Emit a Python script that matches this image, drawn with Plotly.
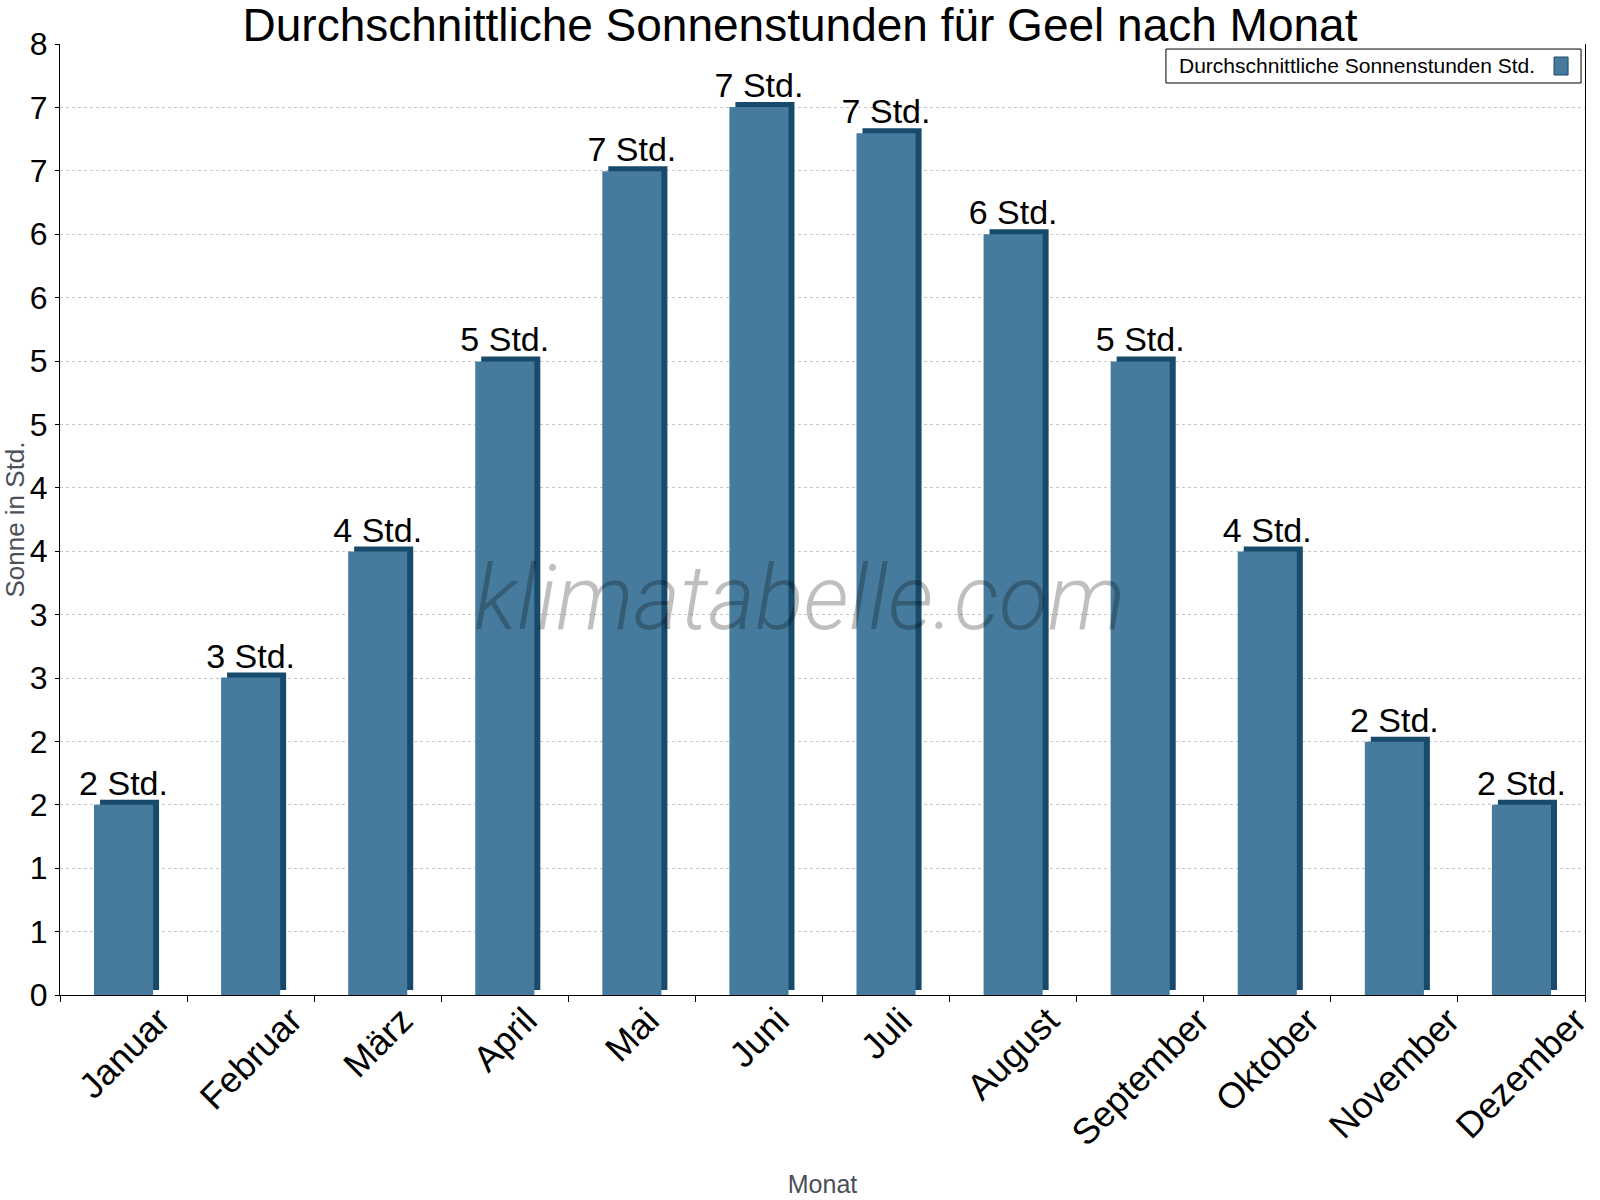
import plotly.graph_objects as go

months = ["Januar", "Februar", "März", "April", "Mai", "Juni", "Juli",
          "August", "September", "Oktober", "November", "Dezember"]
sun_hours = [1.6, 2.67, 3.73, 5.33, 6.93, 7.47, 7.25, 6.4, 5.33, 3.73, 2.13, 1.6]
bar_labels = [f"{round(v)} Std." for v in sun_hours]

y_max = 8
n_ticks = 15
y_tickvals = [i * y_max / n_ticks for i in range(n_ticks + 1)]
y_ticktext = [str(int(round(v))) for v in y_tickvals]

FRONT = "#467B9D"
DARK = "#174A6B"
FONT = "Liberation Sans, Arial, sans-serif"

BAR_W = 0.465
DEPTH_Y = 0.042   # 3D depth in y units
DEPTH_X = 0.047   # 3D depth in category units

fig = go.Figure()

# back/dark face (3D effect)
fig.add_trace(go.Bar(
    x=months, y=sun_hours, base=DEPTH_Y,
    width=BAR_W, offset=-BAR_W / 2 + DEPTH_X,
    marker=dict(color=DARK, line=dict(width=0)),
    showlegend=False, hoverinfo="skip",
))
# front face
fig.add_trace(go.Bar(
    x=months, y=sun_hours,
    width=BAR_W, offset=-BAR_W / 2,
    marker=dict(color=FRONT, line=dict(width=0)),
    text=bar_labels, textposition="outside", constraintext="none",
    textfont=dict(family=FONT, size=34, color="black"),
    cliponaxis=False,
    name="Durchschnittliche Sonnenstunden Std.",
    showlegend=False,
))

fig.update_layout(
    width=1600, height=1200,
    margin=dict(l=60, r=15, t=44, b=205, autoexpand=False),
    paper_bgcolor="white", plot_bgcolor="white",
    barmode="overlay",
    font=dict(family=FONT, color="black"),
    title=dict(text="Durchschnittliche Sonnenstunden für Geel nach Monat",
               x=0.5, xanchor="center", y=1 - 25 / 1200, yanchor="middle",
               font=dict(size=46, color="black", family=FONT)),
    xaxis=dict(
        type="category", tickson="boundaries", ticks="outside", ticklen=6,
        tickcolor="black", showline=True, linecolor="black", linewidth=1,
        showticklabels=False,
        showgrid=False, range=[-0.5, 11.5], automargin=False,
        title=dict(text="Monat", font=dict(size=25, color="#4a5058"), standoff=180),
    ),
    yaxis=dict(
        range=[0, y_max], tickvals=y_tickvals, ticktext=y_ticktext,
        ticks="outside", ticklen=4, tickcolor="black",
        showline=True, linecolor="black", linewidth=1, mirror=True,
        showgrid=True, gridcolor="#c8c8c8", griddash="dot", gridwidth=1,
        tickfont=dict(size=32, color="black"), zeroline=False,
        ticklabelstandoff=1, automargin=False,
        title=dict(text="Sonne in Std.", font=dict(size=26, color="#4a5058"), standoff=4),
    ),
)

# Category labels, rotated -45° and centred under each bar
for m in months:
    fig.add_annotation(xref="x", yref="paper", x=m, y=-0.002,
                       xanchor="center", yanchor="top", showarrow=False,
                       text=m, textangle=-45,
                       font=dict(size=36, color="black", family=FONT))

# Legend (box with swatch on the right, as in the reference)
fig.add_shape(type="rect", xref="paper", yref="paper",
              x0=0.7252, x1=0.9974, y0=0.959, y1=0.9947,
              line=dict(color="black", width=1), fillcolor="white", layer="above")
fig.add_shape(type="rect", xref="paper", yref="paper",
              x0=0.9797, x1=0.9889, y0=0.9674, y1=0.9863,
              line=dict(color=DARK, width=1), fillcolor=FRONT, layer="above")
fig.add_annotation(xref="paper", yref="paper", x=0.7325, y=0.9769,
                   xanchor="left", yanchor="middle", showarrow=False,
                   text="Durchschnittliche Sonnenstunden Std.",
                   font=dict(size=21, color="black", family=FONT))

# Watermark
fig.add_annotation(xref="paper", yref="paper", x=0.4852, y=0.417,
                   xanchor="center", yanchor="middle", showarrow=False,
                   text="<i>klimatabelle.com</i>",
                   font=dict(size=90, color="rgba(0,0,0,0.25)", family="Roboto", weight=300))

fig.write_html("out.html")
